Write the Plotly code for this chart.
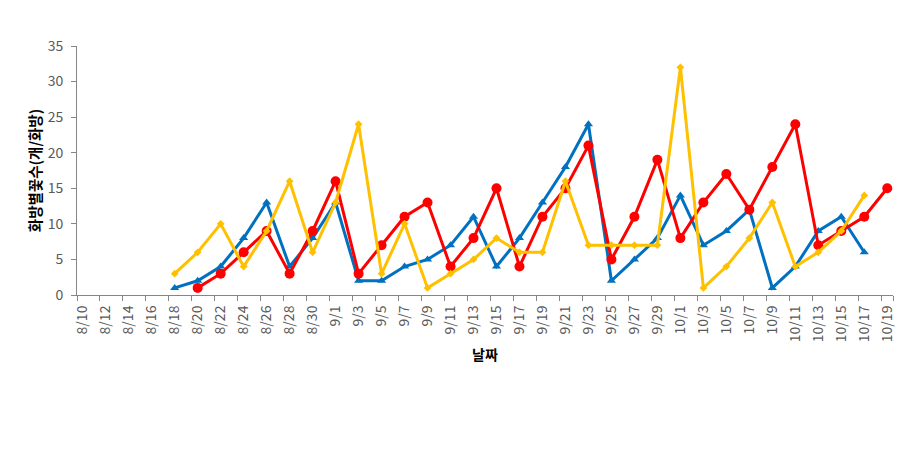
import plotly.graph_objects as go
from datetime import datetime, timedelta

# Category dates (every 2 days, 8/10 .. 10/19)
year = 2023
start = datetime(year, 8, 10)
dates = [start + timedelta(days=2 * i) for i in range(36)]
tick_labels = [f"{d.month}/{d.day}" for d in dates]

# Series values (None = no data)
blue_vals = [None, None, None, None, 1, 2, 4, 8, 13, 4, 8, 13, 2, 2, 4, 5, 7, 11, 4, 8,
             13, 18, 24, 2, 5, 8, 14, 7, 9, 12, 1, 4, 9, 11, 6, None]
red_vals = [None, None, None, None, None, 1, 3, 6, 9, 3, 9, 16, 3, 7, 11, 13, 4, 8, 15, 4,
            11, 15, 21, 5, 11, 19, 8, 13, 17, 12, 18, 24, 7, 9, 11, 15]
yellow_vals = [None, None, None, None, 3, 6, 10, 4, 9, 16, 6, 13, 24, 3, 10, 1, 3, 5, 8, 6,
               6, 16, 7, 7, 7, 7, 32, 1, 4, 8, 13, 4, 6, 9, 14, None]

x_str = [d.strftime("%Y-%m-%d") for d in dates]
minor_ticks = [(d - timedelta(hours=12)).strftime("%Y-%m-%d %H:%M") for d in dates] + \
              [(dates[-1] + timedelta(hours=12)).strftime("%Y-%m-%d %H:%M")]

font_family = "Noto Sans CJK KR, Noto Sans, sans-serif"

fig = go.Figure()
fig.add_trace(go.Scatter(x=x_str, y=blue_vals, mode="lines+markers",
                         line=dict(color="#0070C0", width=3),
                         marker=dict(symbol="triangle-up", size=8, color="#0070C0"),
                         connectgaps=False, showlegend=False))
fig.add_trace(go.Scatter(x=x_str, y=red_vals, mode="lines+markers",
                         line=dict(color="#FF0000", width=3),
                         marker=dict(symbol="circle", size=10, color="#FF0000"),
                         showlegend=False))
fig.add_trace(go.Scatter(x=x_str, y=yellow_vals, mode="lines+markers",
                         line=dict(color="#FFC000", width=3),
                         marker=dict(symbol="diamond", size=6, color="#FFC000"),
                         showlegend=False))

fig.update_layout(
    width=908, height=454,
    margin=dict(l=77, r=15, t=46, b=159),
    paper_bgcolor="white", plot_bgcolor="white",
    font=dict(family=font_family, size=12, color="#595959"),
    xaxis=dict(
        type="date",
        range=[minor_ticks[0], minor_ticks[-1]],
        tickmode="array", tickvals=x_str, ticktext=tick_labels,
        tickangle=-90, ticks="", showgrid=False, zeroline=False,
        showline=True, linecolor="#868686", linewidth=1,
        ticklabelstandoff=4,
        tickfont=dict(size=14, color="#595959"),
        minor=dict(tickmode="array", tickvals=minor_ticks, ticks="outside",
                   ticklen=5, tickcolor="#868686", showgrid=False),
        title=dict(text="<b>날짜</b>", font=dict(size=14, color="#000000"), standoff=9),
    ),
    yaxis=dict(
        range=[0, 35], dtick=5, tick0=0,
        ticks="outside", ticklen=5, tickcolor="#868686",
        showgrid=False, zeroline=False,
        showline=True, linecolor="#868686", linewidth=1,
        ticklabelstandoff=5,
        tickfont=dict(size=14, color="#595959"),
        title=dict(text="<b>화방별꽃수(개/화방)</b>", font=dict(size=14.5, color="#000000"), standoff=2),
    ),
)

fig.write_html("out.html")
